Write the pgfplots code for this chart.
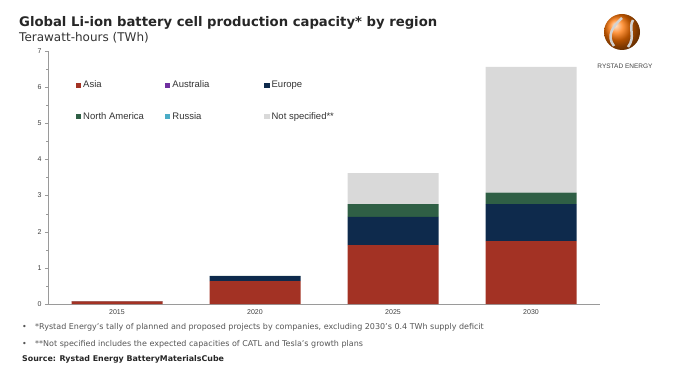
\documentclass[border=0pt]{standalone}
\usepackage{pgfplots}
\pgfplotsset{compat=1.18}
\usepackage{fontspec}
\setmainfont{DejaVu Sans}
\newfontfamily\arialfont{Liberation Sans}
\definecolor{asia}{HTML}{A33224}
\definecolor{austr}{HTML}{7030A0}
\definecolor{europe}{HTML}{0E2A4C}
\definecolor{namer}{HTML}{2F5F45}
\definecolor{russia}{HTML}{4BACC6}
\definecolor{notspec}{HTML}{D9D9D9}
\definecolor{axisgrey}{HTML}{9A9A9A}
\definecolor{txtgrey}{HTML}{555555}
\begin{document}
\begin{tikzpicture}[x=1pt,y=1pt]
\path[use as bounding box] (0pt,0pt) rectangle (677pt,380pt);
\node[anchor=base west, font=\bfseries\fontsize{13.2}{15}\selectfont, text=black!85, inner sep=0] at (19pt,353pt) {Global Li-ion battery cell production capacity* by region};
\node[anchor=base west, font=\fontsize{12}{14}\selectfont, text=black!80, inner sep=0] at (19pt,338pt) {Terawatt-hours (TWh)};
% logo
\shade[ball color=orange!90!red] (622pt,348pt) circle (18pt);
\draw[white!65!gray, line width=2.5pt] (614pt,334pt) .. controls (606pt,344pt) and (613pt,354pt) .. (622pt,362pt);
\draw[white!65!gray, line width=2.5pt] (628pt,333pt) .. controls (636pt,343pt) and (628pt,352pt) .. (633pt,360pt);
\node[font=\arialfont\fontsize{6.5}{7}\selectfont, text=black!75] at (625pt,314pt) {RYSTAD ENERGY};
\begin{axis}[
  at={(48pt,76pt)}, anchor=south west, scale only axis,
  width=552pt, height=253pt,
  ybar stacked, bar width=91pt,
  xmin=-0.5, xmax=3.5, ymin=0, ymax=7,
  axis lines*=left,
  axis line style={axisgrey, line width=0.6pt},
  xtick={0,1,2,3}, xticklabels={2015,2020,2025,2030},
  extra x ticks={0.5,1.5,2.5,3.5}, extra x tick labels={},
  extra x tick style={major tick length=3pt, tick style={axisgrey}},
  x tick style={draw=none},
  ytick={0,1,...,7},
  minor y tick num=1,
  y tick style={axisgrey},
  tick align=outside,
  major tick length=3pt, minor tick length=2pt,
  ticklabel style={font=\arialfont\fontsize{7}{8}\selectfont, text=black!75},
  /pgf/number format/assume math mode=true,
  xticklabel style={yshift=1pt},
  legend columns=3,
  legend style={draw=none, fill=none, at={(0.045,0.898)}, anchor=north west,
    font=\arialfont\fontsize{9.5}{11}\selectfont, text=black!80, row sep=19pt},
  legend cell align=left,
  legend image code/.code={\fill[#1] (0pt,-2.6pt) rectangle (5.2pt,2.6pt);},
  every axis plot/.append style={draw=none},
]
\addplot[fill=asia] coordinates {(0,0.07) (1,0.63) (2,1.63) (3,1.74)};
\addlegendentry{\makebox[80pt][l]{Asia}}
\addplot[fill=austr] coordinates {(0,0) (1,0) (2,0) (3,0)};
\addlegendentry{\makebox[90pt][l]{Australia}}
\addplot[fill=europe] coordinates {(0,0.01) (1,0.14) (2,0.78) (3,1.02)};
\addlegendentry{Europe}
\addplot[fill=namer] coordinates {(0,0) (1,0.01) (2,0.35) (3,0.32)};
\addlegendentry{\makebox[80pt][l]{North America}}
\addplot[fill=russia] coordinates {(0,0) (1,0) (2,0) (3,0)};
\addlegendentry{\makebox[90pt][l]{Russia}}
\addplot[fill=notspec] coordinates {(0,0) (1,0) (2,0.86) (3,3.48)};
\addlegendentry{Not specified**}
\end{axis}
\begin{scope}[every node/.style={anchor=base west, inner sep=0, text=txtgrey, font=\fontsize{8}{9}\selectfont}]
\node at (22pt,50pt) {•};
\node at (35pt,50pt) {*Rystad Energy’s tally of planned and proposed projects by companies, excluding 2030’s 0.4 TWh supply deficit};
\node at (22pt,34pt) {•};
\node at (35pt,34pt) {**Not specified includes the expected capacities of CATL and Tesla’s growth plans};
\node[text=black!85, font=\bfseries\fontsize{7.9}{9}\selectfont] at (22pt,18pt) {Source: Rystad Energy BatteryMaterialsCube};
\end{scope}
\end{tikzpicture}
\end{document}
